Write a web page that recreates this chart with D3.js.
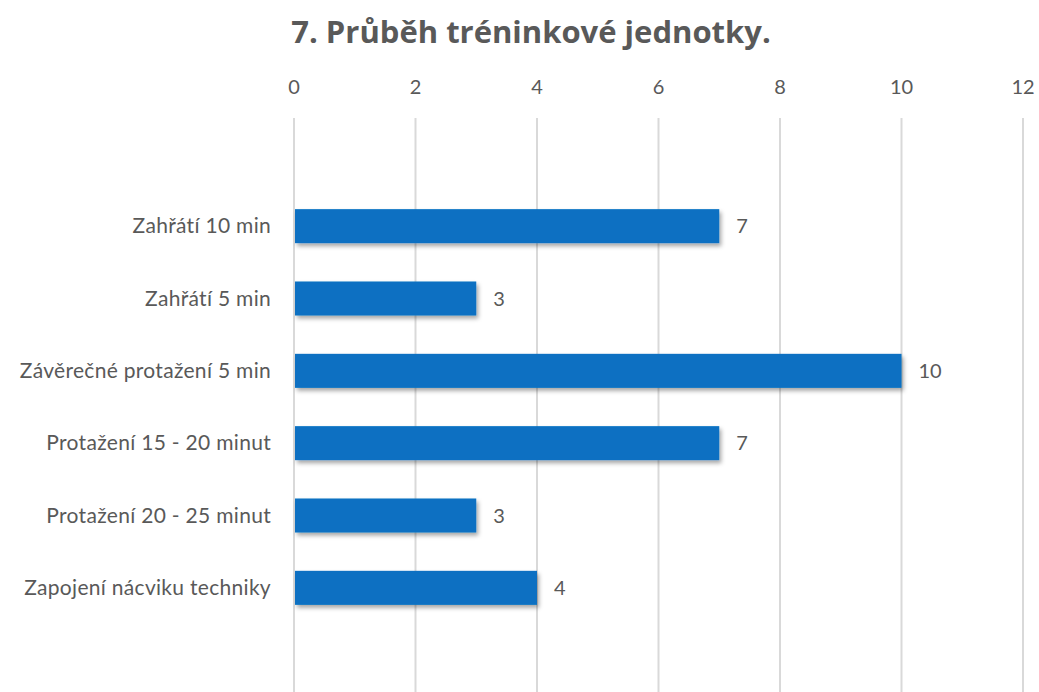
<!DOCTYPE html>
<html>
<head>
<meta charset="utf-8">
<script src="https://cdn.jsdelivr.net/npm/d3@7"></script>
<style>
  body { margin: 0; background: #fff; }
  svg text { font-family: Lato, "Open Sans", sans-serif; fill: #595959; }
</style>
</head>
<body>
<div id="chart"></div>
<script>
const title = "7. Průběh tréninkové jednotky.";
const categories = [
  "Zahřátí 10 min",
  "Zahřátí 5 min",
  "Závěrečné protažení 5 min",
  "Protažení 15 - 20 minut",
  "Protažení 20 - 25 minut",
  "Zapojení nácviku techniky"
];
const values = [7, 3, 10, 7, 3, 4];
const xTicks = [0, 2, 4, 6, 8, 10, 12];

const width = 1039, height = 692;

const svg = d3.select("#chart").append("svg")
  .attr("width", width)
  .attr("height", height);

const defs = svg.append("defs");
const shadow = defs.append("filter").attr("id", "shadow")
  .attr("x", "-5%").attr("y", "-30%").attr("width", "115%").attr("height", "180%");
shadow.append("feDropShadow")
  .attr("dx", 2).attr("dy", 3).attr("stdDeviation", 2)
  .attr("flood-color", "#000").attr("flood-opacity", 0.35);

const x = d3.scaleLinear().domain([0, 12]).range([294, 1023]);
const y = d3.scaleBand().domain(categories).range([190, 624]).paddingInner(0.53).paddingOuter(0.265);

// title
svg.append("text")
  .attr("x", 531).attr("y", 43)
  .attr("text-anchor", "middle")
  .style("font-family", "'Open Sans', sans-serif")
  .style("font-weight", "bold")
  .style("font-size", "31px")
  .text(title);

// gridlines
svg.append("g").selectAll("line")
  .data(xTicks)
  .join("line")
  .attr("x1", d => x(d)).attr("x2", d => x(d))
  .attr("y1", 118).attr("y2", height)
  .attr("stroke", "#d9d9d9")
  .attr("stroke-width", 2);

// top axis labels
svg.append("g").selectAll("text")
  .data(xTicks)
  .join("text")
  .attr("x", d => x(d)).attr("y", 94)
  .attr("text-anchor", "middle")
  .style("font-size", "20px")
  .text(d => d);

// bars
svg.append("g").selectAll("rect")
  .data(values)
  .join("rect")
  .attr("x", x(0) + 1)
  .attr("y", (d, i) => y(categories[i]))
  .attr("width", d => x(d) - x(0) - 1)
  .attr("height", y.bandwidth())
  .attr("fill", "#0770c2")
  .attr("filter", "url(#shadow)");

// value labels
svg.append("g").selectAll("text")
  .data(values)
  .join("text")
  .attr("x", d => x(d) + 17)
  .attr("y", (d, i) => y(categories[i]) + y.bandwidth() / 2 + 7)
  .style("font-size", "20px")
  .text(d => d);

// category labels
svg.append("g").selectAll("text")
  .data(categories)
  .join("text")
  .attr("x", 271)
  .attr("y", d => y(d) + y.bandwidth() / 2 + 7)
  .attr("text-anchor", "end")
  .style("font-size", "21px")
  .style("letter-spacing", "0.3px")
  .text(d => d);
</script>
</body>
</html>
